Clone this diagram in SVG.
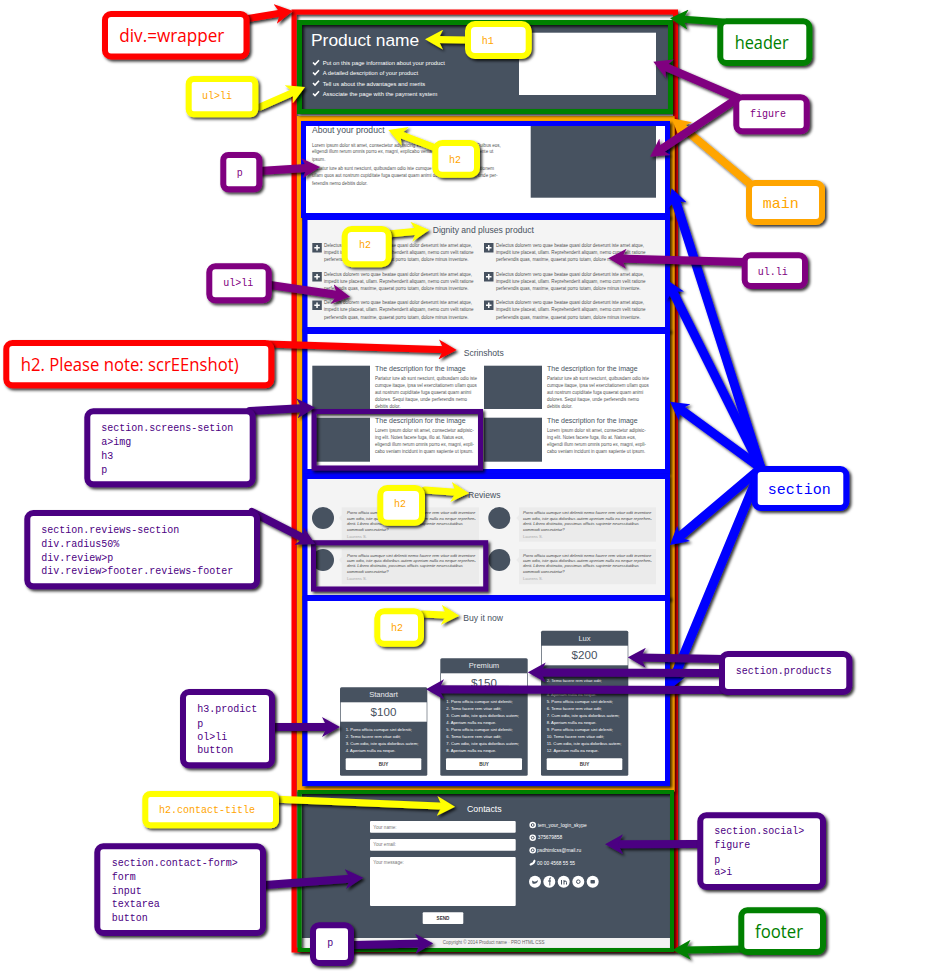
<svg xmlns="http://www.w3.org/2000/svg" xmlns:xlink="http://www.w3.org/1999/xlink" width="932" height="976" viewBox="0 0 932 976">
<style>
text{font-family:"Liberation Sans",Arial,sans-serif}
.dk{fill:#475260}
.wh{fill:#fff}
.h2{font-size:8.6px;fill:#475260}
.h3{font-size:7px;fill:#475260}
.b{font-size:4.55px;fill:#555}
.r{font-size:4.15px;fill:#444;font-style:italic}
.rf{font-size:4.1px;fill:#aaa}
.l{font-size:5.8px;fill:#fff}
.o{font-size:4.2px;fill:#fff}
.ct{font-size:7.6px;fill:#e8eaee;text-anchor:middle}
.pr{font-size:11.6px;fill:#475260;text-anchor:middle}
.btn{font-size:4.6px;fill:#333;font-weight:bold;text-anchor:middle}
.ph{font-size:4.6px;fill:#777}
.so{font-size:4.9px;fill:#fff}
.box{fill:#fff;stroke-width:6;filter:url(#sh)}
.fr{fill:none;filter:url(#sh)}
.m{font-family:"Liberation Mono","DejaVu Sans Mono",monospace;font-size:10px}
.big{font-family:"Liberation Mono","DejaVu Sans Mono",monospace;font-size:15px}
.s{font-family:"Open Sans","Noto Sans",sans-serif;font-size:18px}
.ar{fill:none;stroke-linecap:round}
.si{fill:none;stroke:#475260;stroke-width:1}
</style>
<defs>
<filter id="sh" filterUnits="userSpaceOnUse" x="0" y="0" width="932" height="976"><feDropShadow dx="2" dy="2" stdDeviation="1.4" flood-color="#000" flood-opacity=".8"/></filter>
<marker id="aR" viewBox="0 0 18 20" refX="8" refY="10" markerWidth="18" markerHeight="20" markerUnits="userSpaceOnUse" orient="auto"><path d="M18,10L0,0L5,10L0,20Z" fill="#f00"/></marker>
<marker id="aY" viewBox="0 0 18 20" refX="8" refY="10" markerWidth="18" markerHeight="20" markerUnits="userSpaceOnUse" orient="auto"><path d="M18,10L0,0L5,10L0,20Z" fill="#ff0"/></marker>
<marker id="aP" viewBox="0 0 18 20" refX="8" refY="10" markerWidth="18" markerHeight="20" markerUnits="userSpaceOnUse" orient="auto"><path d="M18,10L0,0L5,10L0,20Z" fill="#800080"/></marker>
<marker id="aI" viewBox="0 0 18 20" refX="8" refY="10" markerWidth="18" markerHeight="20" markerUnits="userSpaceOnUse" orient="auto"><path d="M18,10L0,0L5,10L0,20Z" fill="#4b0082"/></marker>
<marker id="aG" viewBox="0 0 18 20" refX="8" refY="10" markerWidth="18" markerHeight="20" markerUnits="userSpaceOnUse" orient="auto"><path d="M18,10L0,0L5,10L0,20Z" fill="#008000"/></marker>
<marker id="aO" viewBox="0 0 18 20" refX="8" refY="10" markerWidth="18" markerHeight="20" markerUnits="userSpaceOnUse" orient="auto"><path d="M18,10L0,0L5,10L0,20Z" fill="#ffa500"/></marker>
<marker id="aB" viewBox="0 0 18 20" refX="8" refY="10" markerWidth="18" markerHeight="20" markerUnits="userSpaceOnUse" orient="auto"><path d="M18,10L0,0L5,10L0,20Z" fill="#00f"/></marker>
<g id="plus"><rect width="9.5" height="9.5" class="dk"/><path d="M4.75,2v5.5M2,4.75h5.5" stroke="#fff" stroke-width="1.5"/></g>
<path id="chk" d="M0,2l2,2l4,-4.2" fill="none" stroke="#fff" stroke-width="1.6"/>
</defs>

<g id="frames">
<rect class="fr" x="294" y="12" width="381.5" height="938" stroke="#f00" stroke-width="5"/>
<rect class="dk" x="302" y="25" width="366" height="84"/>
<rect x="302" y="794" width="368" height="144" class="dk"/>
<rect x="302" y="938" width="368" height="10" fill="#f2f2f2"/>
<rect class="fr" x="299.5" y="118.5" width="372.5" height="670.500" stroke="#ffa500" stroke-width="5"/>
<rect class="fr" x="299.5" y="22.500" width="371" height="89" stroke="#008000" stroke-width="5"/>
<rect class="fr" x="299.5" y="792" width="372.5" height="158" stroke="#008000" stroke-width="4"/>
<rect x="303.500" y="123.500" width="364" height="92" fill="#fff" stroke="#00f" stroke-width="5" filter="url(#sh)"/>
<rect x="305" y="217.500" width="362.500" height="112" fill="#f4f4f4" stroke="#00f" stroke-width="5" filter="url(#sh)"/>
<rect x="305" y="331.500" width="362.500" height="140" fill="#fff" stroke="#00f" stroke-width="5" filter="url(#sh)"/>
<rect x="305" y="476.500" width="362.500" height="121" fill="#f4f4f4" stroke="#00f" stroke-width="5" filter="url(#sh)"/>
<rect x="305" y="598.500" width="362.500" height="185" fill="#fff" stroke="#00f" stroke-width="5" filter="url(#sh)"/>
</g>

<g id="page">
<text x="311" y="46" font-size="17.400" fill="#fff">Product name</text>
<text class="l" x="322.700" y="64.800">Put on this page information about your product</text>
<text class="l" x="322.700" y="75">A detailed description of your product</text>
<text class="l" x="322.700" y="85.500">Tell us about the advantages and merits</text>
<text class="l" x="322.700" y="96">Associate the page with the payment system</text>
<use xlink:href="#chk" href="#chk" x="313" y="60.500"/><use xlink:href="#chk" href="#chk" x="313" y="70.500"/><use xlink:href="#chk" href="#chk" x="313" y="81"/><use xlink:href="#chk" href="#chk" x="313" y="91.500"/>
<rect class="wh" x="519" y="32.700" width="137" height="62.300"/>

<text class="h2" x="312" y="133">About your product</text>
<rect class="dk" x="530.700" y="126" width="125.300" height="71.700"/>
<text class="b" x="312" y="146.700">Lorem ipsum dolor sit amet, consectetur adipisicing elit. Natus facere fuga, illo at. Quibus eos,</text>
<text class="b" x="312" y="153.400">eligendi illum rerum omnis porro ex, magni, explicabo veniam incidunt in quam sapiente ut</text>
<text class="b" x="312" y="160.700">ipsum.</text>
<text class="b" x="312" y="170">Pariatur iure ab sunt nesciunt, quibusdam odio iste cumque itaque, ipsa vel exercitationem</text>
<text class="b" x="312" y="177.400">ullam quos aut nostrum cupiditate fuga quaerat quam animi dolores. Sequi itaque, unde per-</text>
<text class="b" x="312" y="185">ferendis nemo debitis dolor.</text>

<text class="h2" x="432.700" y="233">Dignity and pluses product</text>
<use xlink:href="#plus" href="#plus" x="312.300" y="243"/><use xlink:href="#plus" href="#plus" x="484" y="243"/>
<use xlink:href="#plus" href="#plus" x="312.300" y="272"/><use xlink:href="#plus" href="#plus" x="484" y="272"/>
<use xlink:href="#plus" href="#plus" x="312.300" y="300.500"/><use xlink:href="#plus" href="#plus" x="484" y="300.500"/>
<text class="b" x="324" y="246.700">Delectus dolorem vero quae beatae quasi dolor deserunt iste amet atque,</text>
<text class="b" x="324" y="254">impedit iure placeat, ullam. Reprehenderit aliquam, nemo cum velit ratione</text>
<text class="b" x="324" y="261">perferendis quas, maxime, quaerat porro totam, dolore minus inventore.</text>
<text class="b" x="496" y="246.700">Delectus dolorem vero quae beatae quasi dolor deserunt iste amet atque,</text>
<text class="b" x="496" y="254">impedit iure placeat, ullam. Reprehenderit aliquam, nemo cum velit ratione</text>
<text class="b" x="496" y="261">perferendis quas, maxime, quaerat porro totam, dolore minus inventore.</text>
<text class="b" x="324" y="275.700">Delectus dolorem vero quae beatae quasi dolor deserunt iste amet atque,</text>
<text class="b" x="324" y="282.700">impedit iure placeat, ullam. Reprehenderit aliquam, nemo cum velit ratione</text>
<text class="b" x="324" y="289.700">perferendis quas, maxime, quaerat porro totam, dolore minus inventore.</text>
<text class="b" x="496" y="275.700">Delectus dolorem vero quae beatae quasi dolor deserunt iste amet atque,</text>
<text class="b" x="496" y="282.700">impedit iure placeat, ullam. Reprehenderit aliquam, nemo cum velit ratione</text>
<text class="b" x="496" y="289.700">perferendis quas, maxime, quaerat porro totam, dolore minus inventore.</text>
<text class="b" x="324" y="304.400">Delectus dolorem vero quae beatae quasi dolor deserunt iste amet atque,</text>
<text class="b" x="324" y="311.400">impedit iure placeat, ullam. Reprehenderit aliquam, nemo cum velit ratione</text>
<text class="b" x="324" y="318.700">perferendis quas, maxime, quaerat porro totam, dolore minus inventore.</text>
<text class="b" x="496" y="304.400">Delectus dolorem vero quae beatae quasi dolor deserunt iste amet atque,</text>
<text class="b" x="496" y="311.400">impedit iure placeat, ullam. Reprehenderit aliquam, nemo cum velit ratione</text>
<text class="b" x="496" y="318.700">perferendis quas, maxime, quaerat porro totam, dolore minus inventore.</text>

<text class="h2" x="463.700" y="355.500">Scrinshots</text>
<rect class="dk" x="312.300" y="365.700" width="57.700" height="43.300"/>
<rect class="dk" x="484" y="365.700" width="58" height="43.300"/>
<rect class="dk" x="312.300" y="417.700" width="57.700" height="44"/>
<rect class="dk" x="484" y="417.700" width="58" height="44"/>
<text class="h3" x="375" y="370.700">The description for the image</text>
<text class="h3" x="547" y="370.700">The description for the image</text>
<text class="h3" x="375" y="423.300">The description for the image</text>
<text class="h3" x="547" y="423.300">The description for the image</text>
<text class="b" x="375" y="380">Pariatur iure ab sunt nesciunt, quibusdam odio iste</text>
<text class="b" x="375" y="386.700">cumque itaque, ipsa vel exercitationem ullam quos</text>
<text class="b" x="375" y="393.700">aut nostrum cupiditate fuga quaerat quam animi</text>
<text class="b" x="375" y="400.700">dolores. Sequi itaque, unde perferendis nemo</text>
<text class="b" x="375" y="407.700">debitis dolor.</text>
<text class="b" x="547" y="380">Pariatur iure ab sunt nesciunt, quibusdam odio iste</text>
<text class="b" x="547" y="386.700">cumque itaque, ipsa vel exercitationem ullam quos</text>
<text class="b" x="547" y="393.700">aut nostrum cupiditate fuga quaerat quam animi</text>
<text class="b" x="547" y="400.700">dolores. Sequi itaque, unde perferendis nemo</text>
<text class="b" x="547" y="407.700">debitis dolor.</text>
<text class="b" x="375" y="432">Lorem ipsum dolor sit amet, consectetur adipisic-</text>
<text class="b" x="375" y="439">ing elit. Notes facere fuga, illo at. Natus eos,</text>
<text class="b" x="375" y="446">eligendi illum rerum omnis porro ex, magni, expli-</text>
<text class="b" x="375" y="453">cabo veniam incidunt in quam sapiente ut ipsum.</text>
<text class="b" x="547" y="432">Lorem ipsum dolor sit amet, consectetur adipisic-</text>
<text class="b" x="547" y="439">ing elit. Notes facere fuga, illo at. Natus eos,</text>
<text class="b" x="547" y="446">eligendi illum rerum omnis porro ex, magni, expli-</text>
<text class="b" x="547" y="453">cabo veniam incidunt in quam sapiente ut ipsum.</text>

<text class="h2" x="468" y="497.500">Reviews</text>
<circle class="dk" cx="323" cy="518" r="11"/><circle class="dk" cx="499.300" cy="518" r="11"/>
<circle class="dk" cx="323" cy="560" r="11"/><circle class="dk" cx="499.300" cy="560" r="11"/>
<g fill="#ebebeb">
<path d="M341.700,507.300H479V541.700H341.700V521L339,518L341.700,515Z"/>
<path d="M519,507.300H656V541.700H519V521L516.300,518L519,515Z"/>
<path d="M341.700,549H479V584.300H341.700V563L339,560L341.700,557Z"/>
<path d="M519,549H656V584.300H519V563L516.300,560L519,557Z"/>
</g>
<text class="r" x="347" y="514.200">Porro officia cumque sint deleniti nemo facere rem vitae odit inventore</text>
<text class="r" x="347" y="519.800">cum odio, iste quia doloribus autem aperiam nulla ea neque reprehen-</text>
<text class="r" x="347" y="525.200">derit. Libero distinctio, possimus officiis sapiente necessitatibus</text>
<text class="r" x="347" y="530.500">commodi consectetur?</text>
<text class="rf" x="347" y="537.500">Laurens S.</text>
<text class="r" x="523" y="514.200">Porro officia cumque sint deleniti nemo facere rem vitae odit inventore</text>
<text class="r" x="523" y="519.800">cum odio, iste quia doloribus autem aperiam nulla ea neque reprehen-</text>
<text class="r" x="523" y="525.200">derit. Libero distinctio, possimus officiis sapiente necessitatibus</text>
<text class="r" x="523" y="530.500">commodi consectetur?</text>
<text class="rf" x="523" y="537.500">Laurens S.</text>
<text class="r" x="347" y="556.800">Porro officia cumque sint deleniti nemo facere rem vitae odit inventore</text>
<text class="r" x="347" y="562.200">cum odio, iste quia doloribus autem aperiam nulla ea neque reprehen-</text>
<text class="r" x="347" y="567.200">derit. Libero distinctio, possimus officiis sapiente necessitatibus</text>
<text class="r" x="347" y="572.500">commodi consectetur?</text>
<text class="rf" x="347" y="579.800">Laurens S.</text>
<text class="r" x="523" y="556.800">Porro officia cumque sint deleniti nemo facere rem vitae odit inventore</text>
<text class="r" x="523" y="562.200">cum odio, iste quia doloribus autem aperiam nulla ea neque reprehen-</text>
<text class="r" x="523" y="567.200">derit. Libero distinctio, possimus officiis sapiente necessitatibus</text>
<text class="r" x="523" y="572.500">commodi consectetur?</text>
<text class="rf" x="523" y="579.800">Laurens S.</text>

<text class="h2" x="463.300" y="620.500">Buy it now</text>

<rect class="dk" x="340" y="687.300" width="87.300" height="88.400" rx="1.500"/>
<rect class="wh" x="340.700" y="702.300" width="86" height="19.400"/>
<text class="ct" x="383.500" y="697">Standart</text>
<text class="pr" x="383.500" y="716">$100</text>
<text class="o" x="345.700" y="730.800">1. Porro officia cumque sint deleniti;</text>
<text class="o" x="345.700" y="737.800">2. Temo facere rem vitae odit;</text>
<text class="o" x="345.700" y="744.800">3. Cum odio, iste quia doloribus autem;</text>
<text class="o" x="345.700" y="752.200">4. Aperiam nulla ea neque.</text>
<rect class="wh" x="345.700" y="758.300" width="75.600" height="11.700" rx="1"/>
<text class="btn" x="383.500" y="765.800">BUY</text>

<rect class="dk" x="440.300" y="658.300" width="87.400" height="117.400" rx="1.500"/>
<rect class="wh" x="441" y="673.300" width="86" height="19.400"/>
<text class="ct" x="484" y="668">Premium</text>
<text class="pr" x="484" y="687">$150</text>
<text class="o" x="446.300" y="702.500">1. Porro officia cumque sint deleniti;</text>
<text class="o" x="446.300" y="709.500">2. Temo facere rem vitae odit;</text>
<text class="o" x="446.300" y="716.500">3. Cum odio, iste quia doloribus autem;</text>
<text class="o" x="446.300" y="723.500">4. Aperiam nulla ea neque.</text>
<text class="o" x="446.300" y="730.500">5. Porro officia cumque sint deleniti;</text>
<text class="o" x="446.300" y="737.500">6. Temo facere rem vitae odit;</text>
<text class="o" x="446.300" y="744.500">7. Cum odio, iste quia doloribus autem;</text>
<text class="o" x="446.300" y="751.500">8. Aperiam nulla ea neque.</text>
<rect class="wh" x="446" y="758.300" width="76" height="11.700" rx="1"/>
<text class="btn" x="484" y="765.800">BUY</text>

<rect class="dk" x="541" y="630.700" width="87.300" height="145" rx="1.500"/>
<rect class="wh" x="541.700" y="645.700" width="86" height="19.600"/>
<text class="ct" x="584.500" y="640.700">Lux</text>
<text class="pr" x="584.500" y="659.300">$200</text>
<text class="o" x="546.700" y="674.800">1. Porro officia cumque sint deleniti;</text>
<text class="o" x="546.700" y="681.800">2. Temo facere rem vitae odit;</text>
<text class="o" x="546.700" y="688.800">3. Cum odio, iste quia doloribus autem;</text>
<text class="o" x="546.700" y="695.800">4. Aperiam nulla ea neque.</text>
<text class="o" x="546.700" y="702.800">5. Porro officia cumque sint deleniti;</text>
<text class="o" x="546.700" y="709.800">6. Temo facere rem vitae odit;</text>
<text class="o" x="546.700" y="716.800">7. Cum odio, iste quia doloribus autem;</text>
<text class="o" x="546.700" y="723.800">8. Aperiam nulla ea neque.</text>
<text class="o" x="546.700" y="730.800">9. Porro officia cumque sint deleniti;</text>
<text class="o" x="546.700" y="737.800">10. Temo facere rem vitae odit;</text>
<text class="o" x="546.700" y="744.800">11. Cum odio, iste quia doloribus autem;</text>
<text class="o" x="546.700" y="751.800">12. Aperiam nulla ea neque.</text>
<rect class="wh" x="546.700" y="758.300" width="75.600" height="11.700" rx="1"/>
<text class="btn" x="584.500" y="765.800">BUY</text>

<text x="467" y="811.700" font-size="8.800" fill="#fff">Contacts</text>
<rect class="wh" x="370" y="821" width="145.700" height="11.700" rx="1"/>
<rect class="wh" x="370" y="839" width="145.700" height="11.700" rx="1"/>
<rect class="wh" x="370" y="857" width="145.700" height="49" rx="1"/>
<text class="ph" x="373.300" y="829">Your name:</text>
<text class="ph" x="373.300" y="846.400">Your email:</text>
<text class="ph" x="373.300" y="864">Your message:</text>
<rect class="wh" x="422.700" y="912.300" width="40.600" height="11.700" rx="1"/>
<text class="btn" x="443" y="920">SEND</text>

<circle class="wh" cx="532.700" cy="825" r="3.300"/><circle class="wh" cx="532.700" cy="837.700" r="3.300"/><circle class="wh" cx="532.700" cy="850.300" r="3.300"/>
<circle cx="532.700" cy="825" r="1.400" class="si"/><circle cx="532.700" cy="837.700" r="1.400" class="si"/><circle cx="532.700" cy="850.300" r="1.400" class="si"/>
<path d="M535.500,860.500c0,2.500,-2.500,5,-5.500,5l-.5,-1.200l1.500,-1.200c1,0,2,-1,2.300,-2.300l1,-1.200z" class="wh"/>
<text class="so" x="537.700" y="826.700">tem_your_login_skype</text>
<text class="so" x="537.700" y="839.400">375679858</text>
<text class="so" x="537" y="852">psdhtmlcss@mail.ru</text>
<text class="so" x="537" y="864.700">00 00 4568 55 55</text>
<circle class="wh" cx="535" cy="881.700" r="6"/><circle class="wh" cx="549.300" cy="881.700" r="6"/><circle class="wh" cx="563.700" cy="881.700" r="6"/><circle class="wh" cx="578.300" cy="881.700" r="6"/><circle class="wh" cx="592.700" cy="881.700" r="6"/>
<path d="M532,880.500q3,2.500,6,-.5l-.5,2q-1.500,2.500,-5,1.500z" class="dk"/>
<path d="M551,878h-1.200v7.500M548,881h3" class="si" stroke-width="1.300"/>
<path d="M561.500,880v4.500M564,884.500v-4.500M564,881.500q2.500,-1.500,2.500,1v2" class="si"/>
<circle cx="578.300" cy="881.700" r="1.800" class="si"/>
<rect x="590.500" y="880" width="4.400" height="3.600" rx=".8" class="dk"/>

<text x="442.700" y="944.400" font-size="4.500" fill="#666">Copyright © 2014 Product name · PRO HTML CSS</text>

<rect class="fr" x="314" y="411.500" width="166.500" height="56.500" stroke="#4b0082" stroke-width="5"/>
<rect class="fr" x="313.500" y="542.700" width="172.200" height="46.300" stroke="#4b0082" stroke-width="5"/>
</g>

<g id="connectors">
<g filter="url(#sh)" stroke="#00f" stroke-width="9" class="ar">
<path d="M761,468L674.700,197.800" marker-end="url(#aB)"/>
<path d="M761,468L671.500,288.900" marker-end="url(#aB)"/>
<path d="M761,468L678.100,407.600" marker-end="url(#aB)"/>
<path d="M761,468L677.600,538.500" marker-end="url(#aB)"/>
<path d="M761,468L672.800,680.800" marker-end="url(#aB)"/>
</g>
<g filter="url(#sh)" stroke="#f00" stroke-width="7" class="ar">
<path d="M245,19L283.100,12.600" marker-end="url(#aR)"/>
<path d="M268,344L446.700,349.700" marker-end="url(#aR)"/>
</g>
<g filter="url(#sh)" stroke="#ff0" stroke-width="7" class="ar">
<path d="M260,107L295.900,91.100" marker-end="url(#aY)"/>
<path d="M272,799L445,806.300" marker-end="url(#aY)"/>
<path d="M468,40L435,39.500" marker-end="url(#aY)"/>
<path d="M433,147L397.700,133.600" marker-end="url(#aY)"/>
<path d="M388,234L419.300,231" marker-end="url(#aY)"/>
<path d="M425,490L459,492.500" marker-end="url(#aY)"/>
<path d="M423,614L449.300,615.200" marker-end="url(#aY)"/>
</g>
<g filter="url(#sh)" stroke="#ffa500" stroke-width="8" class="ar">
<path d="M749,183L679.400,124.700" marker-end="url(#aO)"/>
</g>
<g filter="url(#sh)" stroke="#008000" stroke-width="7" class="ar">
<path d="M723,22L680,19" marker-end="url(#aG)"/>
<path d="M746,949L682.700,949.900" marker-end="url(#aG)"/>
</g>
<g filter="url(#sh)" stroke="#800080" stroke-width="8" class="ar">
<path d="M259,171L310,167.700" marker-end="url(#aP)"/>
<path d="M270,285L340.100,295.200" marker-end="url(#aP)"/>
<path d="M738,98L662.500,65.600" marker-end="url(#aP)"/>
<path d="M738,98L658.300,151.200" marker-end="url(#aP)"/>
<path d="M745,262L618.300,258.600" marker-end="url(#aP)"/>
</g>
<g filter="url(#sh)" stroke="#4b0082" stroke-width="8" class="ar">
<path d="M250,411L305,408" marker-end="url(#aI)"/>
<path d="M252,512L306.100,539.500" marker-end="url(#aI)"/>
<path d="M272,727L330,727" marker-end="url(#aI)"/>
<path d="M265,885L353.300,878.400" marker-end="url(#aI)"/>
<path d="M353,945L423.300,943.500" marker-end="url(#aI)"/>
<path d="M724,659L637.700,657.500" marker-end="url(#aI)"/>
<path d="M722,673L537.700,672.400" marker-end="url(#aI)"/>
<path d="M724,690L436,689.300" marker-end="url(#aI)"/>
<path d="M698,844L615,844.300" marker-end="url(#aI)"/>
</g>
</g>

<g id="node-wrapper"><rect class="box" x="105" y="14" width="141.500" height="42.500" rx="6" stroke="#f00"/><text class="s" x="119.300" y="41.700" fill="#f00" textLength="105" lengthAdjust="spacingAndGlyphs">div.=wrapper</text></g>
<g id="node-ulli-yellow"><rect class="box" x="188.700" y="79" width="66.600" height="35.300" rx="5" stroke="#ff0"/><text class="m" x="202" y="99" fill="#ffa500">ul&gt;li</text></g>
<g id="node-p-purple"><rect class="box" x="223.300" y="155" width="36" height="34.300" rx="5" stroke="#800080"/><text class="m" x="236.700" y="175.700" fill="#800080">p</text></g>
<g id="node-ulli-purple"><rect class="box" x="209.300" y="266.300" width="59.400" height="34" rx="6" stroke="#800080"/><text class="m" x="223.300" y="285.700" fill="#800080">ul&gt;li</text></g>
<g id="node-h2-note"><rect class="box" x="6.300" y="343" width="265" height="42.300" rx="6" stroke="#f00"/><text class="s" x="20.700" y="370.700" fill="#f00" textLength="218" lengthAdjust="spacingAndGlyphs">h2. Please note: scrEEnshot)</text></g>
<g id="node-screens"><rect class="box" x="87.300" y="411.300" width="165.400" height="73" rx="6" stroke="#4b0082"/>
<text class="m" x="101.300" y="430.700" fill="#4b0082">section.screens-setion</text><text class="m" x="101.300" y="445" fill="#4b0082">a&gt;img</text><text class="m" x="101.300" y="459" fill="#4b0082">h3</text><text class="m" x="101.300" y="472.700" fill="#4b0082">p</text></g>
<g id="node-reviews"><rect class="box" x="27.300" y="513" width="229.700" height="73.300" rx="6" stroke="#4b0082"/>
<text class="m" x="41.300" y="533" fill="#4b0082">section.reviews-section</text><text class="m" x="41.300" y="547" fill="#4b0082">div.radius50%</text><text class="m" x="41.300" y="561" fill="#4b0082">div.review&gt;p</text><text class="m" x="41.300" y="574" fill="#4b0082">div.review&gt;footer.reviews-footer</text></g>
<g id="node-products-left"><rect class="box" x="183" y="692" width="89" height="73.300" rx="6" stroke="#4b0082"/>
<text class="m" x="197.300" y="711.700" fill="#4b0082">h3.prodict</text><text class="m" x="197.300" y="726.700" fill="#4b0082">p</text><text class="m" x="197.300" y="740" fill="#4b0082">ol&gt;li</text><text class="m" x="197.300" y="752.700" fill="#4b0082">button</text></g>
<g id="node-contact-title"><rect class="box" x="145.300" y="794" width="130.700" height="31.300" rx="5" stroke="#ff0"/><text class="m" x="159" y="813.300" fill="#ffa500">h2.contact-title</text></g>
<g id="node-contact-form"><rect class="box" x="97.300" y="846.300" width="165.700" height="86.700" rx="6" stroke="#4b0082"/>
<text class="m" x="111.700" y="866" fill="#4b0082">section.contact-form&gt;</text><text class="m" x="111.700" y="880" fill="#4b0082">form</text><text class="m" x="111.700" y="894" fill="#4b0082">input</text><text class="m" x="111.700" y="906.700" fill="#4b0082">textarea</text><text class="m" x="111.700" y="920.700" fill="#4b0082">button</text></g>
<g id="node-p-footer"><rect class="box" x="313" y="925.300" width="38" height="37.700" rx="6" stroke="#4b0082"/><text class="m" x="327.300" y="945.700" fill="#4b0082">p</text></g>
<g id="node-h1"><rect class="box" x="468" y="24" width="60.700" height="32" rx="7" stroke="#ff0"/><text class="m" x="481.700" y="44" fill="#ffa500">h1</text></g>
<g id="node-h2-about"><rect class="box" x="435.300" y="143" width="41.700" height="31.700" rx="7" stroke="#ff0"/><text class="m" x="449" y="162.700" fill="#ffa500">h2</text></g>
<g id="node-h2-dignity"><rect class="box" x="344.700" y="229" width="44" height="35.300" rx="7" stroke="#ff0"/><text class="m" x="359" y="248.300" fill="#ffa500">h2</text></g>
<g id="node-h2-reviews"><rect class="box" x="380.300" y="488" width="41.700" height="34.700" rx="7" stroke="#ff0"/><text class="m" x="394" y="507.300" fill="#ffa500">h2</text></g>
<g id="node-h2-buy"><rect class="box" x="377.300" y="611.300" width="43.700" height="32.400" rx="7" stroke="#ff0"/><text class="m" x="391" y="630.700" fill="#ffa500">h2</text></g>
<g id="node-header"><rect class="box" x="720.300" y="21.300" width="89" height="41.700" rx="6" stroke="#008000"/><text class="s" x="734.700" y="48.700" fill="#008000" textLength="54" lengthAdjust="spacingAndGlyphs">header</text></g>
<g id="node-figure"><rect class="box" x="736.300" y="97.300" width="70.400" height="34" rx="6" stroke="#800080"/><text class="m" x="750" y="116.700" fill="#800080">figure</text></g>
<g id="node-main"><rect class="box" x="749" y="183" width="73" height="39" rx="6" stroke="#ffa500"/><text class="big" x="762.700" y="208.300" fill="#ffa500">main</text></g>
<g id="node-ulli-right"><rect class="box" x="744.700" y="255.300" width="60.300" height="30.700" rx="6" stroke="#800080"/><text class="m" x="757.700" y="275" fill="#800080">ul.li</text></g>
<g id="node-section"><rect class="box" x="754.700" y="469" width="91.600" height="39" rx="6" stroke="#00f"/><text class="big" x="767.700" y="494.300" fill="#00f">section</text></g>
<g id="node-products"><rect class="box" x="722" y="654" width="127.300" height="38" rx="6" stroke="#4b0082"/><text class="m" x="735.700" y="674" fill="#4b0082">section.products</text></g>
<g id="node-social"><rect class="box" x="700.300" y="815.300" width="122.700" height="71.700" rx="6" stroke="#4b0082"/>
<text class="m" x="714.300" y="834" fill="#4b0082">section.social&gt;</text><text class="m" x="714.300" y="848" fill="#4b0082">figure</text><text class="m" x="714.300" y="863.300" fill="#4b0082">p</text><text class="m" x="714.300" y="875" fill="#4b0082">a&gt;i</text></g>
<g id="node-footer"><rect class="box" x="741.300" y="910.300" width="81.700" height="41.700" rx="6" stroke="#008000"/><text class="s" x="755" y="937.700" fill="#008000" textLength="48" lengthAdjust="spacingAndGlyphs">footer</text></g>
</svg>
